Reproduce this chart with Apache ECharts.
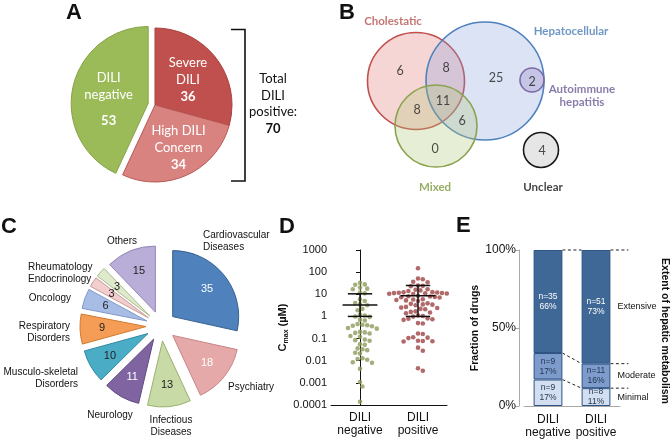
<!DOCTYPE html>
<html><head><meta charset="utf-8">
<script src="https://cdn.jsdelivr.net/npm/echarts@6/dist/echarts.min.js"></script>
<style>html,body{margin:0;padding:0;background:#fff}#c{width:671px;height:439px}</style>
</head><body><div id="c"></div>
<script>
// ---------- Panel A data ----------
const aCategories = ['Severe DILI', 'High DILI Concern', 'DILI negative'];
const aValues = [36, 34, 53];
const aTotalPositive = 70;

// ---------- Panel B data (Venn; set circles in panel units) ----------
const vennSets = ['Cholestatic', 'Hepatocellular', 'Mixed', 'Autoimmune\nhepatitis', 'Unclear'];
const vennCx = [116, 185, 136, 232, 241];
const vennCy = [81, 81, 126, 80, 150];
const vennR = [48.5, 59, 41, 12, 17.5];
const vennLabelX = [93, 271, 135, 282, 243];
const vennLabelY = [21, 31, 187, 96, 187];
const vennCounts = [6, 8, 25, 2, 11, 8, 6, 0, 4];
const vennCountX = [100, 146, 196, 232, 143, 117, 162, 135, 242];
const vennCountY = [71, 68, 78, 82, 101, 110, 121, 149, 151];

// ---------- Panel C data ----------
const cCategories = ['Cardiovascular\nDiseases', 'Psychiatry', 'Infectious\nDiseases', 'Neurology',
  'Musculo-skeletal\nDisorders', 'Respiratory\nDisorders', 'Oncology', 'Endocrinology', 'Rheumatology', 'Others'];
const cValues = [35, 18, 13, 11, 10, 9, 6, 3, 3, 15];

// ---------- Panel D data (Cmax, µM) ----------
const dCategories = ['DILI\nnegative', 'DILI\npositive'];
const dTickLabels = ['0.0001', '0.001', '0.01', '0.1', '1', '10', '100', '1000'];
const dNegative = [33, 28, 27, 20, 18, 17, 12, 11, 6, 5, 4, 3.5, 3.2, 2.2, 1.9, 1.2, 1.1, 1.0, 0.95,
  0.7, 0.65, 0.45, 0.42, 0.4, 0.38, 0.36, 0.3, 0.28, 0.2, 0.19, 0.18, 0.17, 0.13, 0.12, 0.09, 0.085, 0.08,
  0.056, 0.052, 0.036, 0.033, 0.03, 0.023, 0.021, 0.013, 0.012, 0.011, 0.0085, 0.008, 0.0043, 0.0011, 0.00068, 0.00014];
const dPositive = [150, 52, 48, 37, 35, 25, 24, 23, 17, 16, 15, 14,
  12.5, 12.2, 12, 11.8, 11.5, 11.3, 11, 10.8, 10.5, 10.2,
  8.5, 8.2, 8, 7.8, 7.6, 7.4, 7.2, 6, 5.8, 5.5, 5.3, 5, 3.9, 3.7, 3.5, 3.4, 3.2,
  2.7, 2.5, 2.4, 2.2, 2.1, 1.7, 1.6, 1.5, 1.4, 1.1, 1.05, 0.98, 0.82, 0.78, 0.74, 0.7,
  0.5, 0.48, 0.17, 0.16, 0.115, 0.11, 0.105, 0.08, 0.078, 0.076, 0.074, 0.039, 0.028, 0.0046, 0.0035];
const dCenter = [3.3, 8.5];
const dLow = [1.0, 1.0];
const dHigh = [10.5, 25];

// ---------- Panel E data ----------
const eCategories = ['DILI\nnegative', 'DILI\npositive'];
const eLevels = ['Minimal', 'Moderate', 'Extensive'];
const eMinimal = [9, 8];
const eModerate = [9, 11];
const eExtensive = [35, 51];
const eYTicks = ['0%', '50%', '100%'];

// ---------- styles ----------
const FA = 'Lato, "Open Sans", sans-serif';
const FS = '"Liberation Sans", Arial, sans-serif';
const aColors = ['#c0504d', '#d98381', '#9bbb59'];
const aBorders = ['#a9403d', '#b85856', '#86a347'];
const aLabelShift = [{dx: 0, dy: 0}, {dx: 6, dy: 5}, {dx: 1, dy: 9}];
const vennFill = ['rgba(222,120,115,0.30)', 'rgba(130,155,220,0.28)', 'rgba(175,200,120,0.30)', 'rgba(170,160,210,0.45)', '#e6e6e6'];
const vennStroke = ['#c0504d', '#4f81bd', '#8aa34f', '#7a6aa6', '#1a1a1a'];
const vennLabelColor = ['#b5524f', '#4a7db5', '#7d9a3e', '#6b5b95', '#111'];
const cColors = ['#4f81bd', '#e6a9a9', '#c8dba6', '#8064a2', '#4bacc6', '#f59d56', '#a7bde6', '#f2cece', '#dfeacd', '#b9aed8'];
const cBorders = ['#36628f', '#c98585', '#98b26f', '#5f4a7e', '#2f8aa3', '#cf7a30', '#7f98c6', '#c99a9a', '#a9bd8a', '#9487b9'];
const cNumColors = ['#fff', '#fff', '#222', '#fff', '#222', '#222', '#222', '#222', '#222', '#222'];
const cNameLabelPos = [
  {x: 203, y: 241, align: 'left'}, {x: 228, y: 387, align: 'left'}, {x: 171, y: 426, align: 'center'},
  {x: 110, y: 415, align: 'center'}, {x: 78, y: 378, align: 'right'}, {x: 70, y: 332, align: 'right'},
  {x: 71, y: 298, align: 'right'}, {x: 28, y: 279, align: 'left'}, {x: 28, y: 267, align: 'left'},
  {x: 122, y: 241, align: 'center'}];
const eColors = ['#d3dff0', '#7e9ccb', '#3f6896'];
const eLabelColors = ['#1f3350', '#1f3350', '#fff'];

// ---------- beeswarm offsets (deterministic) ----------
function swarm(values, cat) {
  const pxX = 58, pxDecade = 22.1, d = 4.8;
  const pts = values.map(v => ({v: v, y: -Math.log10(v) * pxDecade, x: 0}));
  const order = pts.slice().sort((a, b) => b.v - a.v);
  const placed = [];
  order.forEach(p => {
    for (let k = 0; k < 60; k++) {
      const off = (k % 2 ? 1 : -1) * Math.ceil(k / 2) * d / 2;
      if (placed.every(q => (q.x - off) * (q.x - off) + (q.y - p.y) * (q.y - p.y) >= d * d)) {
        p.x = off; placed.push(p); break;
      }
    }
  });
  return pts.map(p => [cat + p.x / pxX, p.v]);
}

// ---------- Panel E derived ----------
const eTotals = eMinimal.map((v, i) => v + eModerate[i] + eExtensive[i]);
const pct = arr => arr.map((v, i) => 100 * v / eTotals[i]);
const eMinP = pct(eMinimal), eModP = pct(eModerate), eExtP = pct(eExtensive);
const eCounts = [eMinimal, eModerate, eExtensive];
const eBoundaries = [
  [eMinP[0], eMinP[1], eMinP[1] / 2, 0],
  [eMinP[0] + eModP[0], eMinP[1] + eModP[1], eMinP[1] + eModP[1] / 2, 1],
  [100, 100, eMinP[1] + eModP[1] + eExtP[1] / 2, 2]
];

const chart = echarts.init(document.getElementById('c'), null, {renderer: 'canvas'});

const option = {
  animation: false,
  backgroundColor: '#fff',
  grid: [
    {left: 300, top: 0, width: 371, height: 200},
    {left: 331, top: 250, width: 116, height: 155},
    {left: 524, top: 250, width: 96, height: 156}
  ],
  xAxis: [
    {gridIndex: 0, type: 'value', min: 0, max: 371, show: false},
    {gridIndex: 1, type: 'category', data: dCategories, boundaryGap: true,
      axisLine: {lineStyle: {color: '#111', width: 1}},
      axisTick: {alignWithLabel: true, length: 4, lineStyle: {color: '#111'}},
      axisLabel: {interval: 0, fontFamily: FS, fontSize: 12, color: '#111', lineHeight: 13, margin: 6}},
    {gridIndex: 1, type: 'value', min: -0.5, max: 1.5, show: false},
    {gridIndex: 2, type: 'category', data: eCategories, boundaryGap: true,
      axisLine: {lineStyle: {color: '#aaa'}}, axisTick: {show: false},
      axisLabel: {interval: 0, fontFamily: FS, fontSize: 12, color: '#111', lineHeight: 13, margin: 7}}
  ],
  yAxis: [
    {gridIndex: 0, type: 'value', min: 0, max: 200, inverse: true, show: false},
    {gridIndex: 1, type: 'log', logBase: 10, min: 0.0001, max: 1000, splitNumber: 7,
      axisLine: {show: true, lineStyle: {color: '#111'}},
      axisTick: {show: true, length: 4, lineStyle: {color: '#111'}},
      splitLine: {show: false}, minorTick: {show: false},
      axisLabel: {fontFamily: FS, fontSize: 11, color: '#111', margin: 4,
        formatter: v => dTickLabels[Math.round(Math.log10(v)) + 4]},
      name: '{c|C}{s|max}{c| (µM)}', nameLocation: 'middle', nameRotate: 90, nameGap: 40,
      nameTextStyle: {rich: {
        c: {fontFamily: FS, fontSize: 11, fontWeight: 'bold', color: '#111'},
        s: {fontFamily: FS, fontSize: 7, fontWeight: 'bold', color: '#111', padding: [6, 0, 0, 0]}}}},
    {gridIndex: 2, type: 'value', min: 0, max: 100, interval: 50, offset: 5,
      axisLine: {show: true, lineStyle: {color: '#aaa'}},
      axisTick: {show: true, length: 4, lineStyle: {color: '#aaa'}},
      splitLine: {show: false},
      axisLabel: {fontFamily: FS, fontSize: 12, color: '#111', margin: 3,
        formatter: v => eYTicks[Math.round(v / 50)]},
      name: 'Fraction of drugs', nameLocation: 'middle', nameRotate: 90, nameGap: 38,
      nameTextStyle: {fontFamily: FS, fontSize: 10.5, fontWeight: 'bold', color: '#111'}}
  ],
  series: [
    // ----- Panel A -----
    {type: 'pie', center: [155, 105], radius: 77, startAngle: 90, selectedMode: 'single', selectedOffset: 7,
      data: aValues.map((v, i) => ({value: v, name: aCategories[i], selected: i === 2,
        itemStyle: {color: aColors[i], borderColor: aBorders[i], borderWidth: 1}})),
      label: {position: 'inside', color: '#fff', fontFamily: FA, fontSize: 13, lineHeight: 17,
        formatter: p => {
          if (p.dataIndex === 0) return '{n|Severe}\n{n|DILI}\n{b|' + p.value + '}';
          if (p.dataIndex === 1) return '{n|High DILI}\n{n|Concern}\n{b|' + p.value + '}';
          return '{n|DILI}\n{n|negative}\n{g|' + p.value + '}';
        },
        rich: {n: {fontFamily: FA, fontSize: 13, color: '#fff', lineHeight: 17},
          b: {fontFamily: FA, fontSize: 13, fontWeight: 'bold', color: '#fff', lineHeight: 17},
          g: {fontFamily: FA, fontSize: 13, fontWeight: 'bold', color: '#fff', lineHeight: 34}}},
      labelLayout: p => ({dx: aLabelShift[p.dataIndex].dx, dy: aLabelShift[p.dataIndex].dy}),
      labelLine: {show: false}, emphasis: {disabled: true}},
    // ----- Panel C (slices) -----
    {type: 'pie', center: [161, 326], radius: 66, startAngle: 90, selectedMode: 'multiple', selectedOffset: 15,
      data: cValues.map((v, i) => ({value: v, name: cCategories[i], selected: true,
        itemStyle: {color: cColors[i], borderColor: cBorders[i], borderWidth: 1}})),
      label: {show: false}, labelLine: {show: false}, emphasis: {disabled: true}},
    // ----- Panel C (numbers) -----
    {type: 'pie', center: [161, 326], radius: 82, startAngle: 90, selectedMode: 'multiple', selectedOffset: 15,
      avoidLabelOverlap: false,
      data: cValues.map((v, i) => ({value: v, name: cCategories[i], selected: true,
        itemStyle: {color: 'rgba(0,0,0,0)', borderWidth: 0},
        label: {color: cNumColors[i]}})),
      label: {position: 'inside', fontFamily: FS, fontSize: 11, formatter: '{c}', overflow: 'none'},
      labelLayout: {hideOverlap: false},
      labelLine: {show: false}, emphasis: {disabled: true}, silent: true},
    // ----- Panel C (names) -----
    {type: 'pie', center: [161, 326], radius: 66, startAngle: 90, avoidLabelOverlap: false,
      data: cValues.map((v, i) => ({value: v, name: cCategories[i],
        itemStyle: {color: 'rgba(0,0,0,0)', borderWidth: 0}})),
      label: {position: 'outside', fontFamily: FS, fontSize: 10, color: '#111', lineHeight: 12,
        formatter: '{b}', overflow: 'none', width: 120},
      labelLine: {show: false}, emphasis: {disabled: true}, silent: true,
      labelLayout: p => ({x: cNameLabelPos[p.dataIndex].x, y: cNameLabelPos[p.dataIndex].y,
        align: cNameLabelPos[p.dataIndex].align, verticalAlign: 'middle', hideOverlap: false})},
    // ----- Panel B circles -----
    {type: 'custom', xAxisIndex: 0, yAxisIndex: 0, silent: true,
      data: vennCx.map((x, i) => [x, vennCy[i], vennR[i]]),
      renderItem: (params, api) => {
        const c = api.coord([api.value(0), api.value(1)]);
        const r = api.size([api.value(2), 0])[0];
        const i = params.dataIndex;
        return {type: 'circle', shape: {cx: c[0], cy: c[1], r: r},
          style: {fill: vennFill[i], stroke: vennStroke[i], lineWidth: 1.6}};
      }},
    // ----- Panel B set labels -----
    {type: 'scatter', xAxisIndex: 0, yAxisIndex: 0, symbolSize: 0, silent: true,
      data: vennSets.map((s, i) => ({value: [vennLabelX[i], vennLabelY[i]], name: s,
        label: {color: vennLabelColor[i]}})),
      label: {show: true, position: 'inside', formatter: '{b}', fontFamily: FA, fontSize: 11.5,
        fontWeight: 'bold', lineHeight: 13, align: 'center'}},
    // ----- Panel B counts -----
    {type: 'scatter', xAxisIndex: 0, yAxisIndex: 0, symbolSize: 0, silent: true,
      data: vennCounts.map((c, i) => [vennCountX[i], vennCountY[i], c]),
      label: {show: true, position: 'inside', formatter: p => String(p.value[2]),
        fontFamily: FA, fontSize: 12.5, color: '#222'}},
    // ----- Panel D scatter -----
    {type: 'scatter', xAxisIndex: 2, yAxisIndex: 1, symbolSize: 4.6, silent: true,
      itemStyle: {color: '#8d9b5c'}, data: swarm(dNegative, 0)},
    {type: 'scatter', xAxisIndex: 2, yAxisIndex: 1, symbolSize: 4.6, silent: true,
      itemStyle: {color: '#9e4444'}, data: swarm(dPositive, 1)},
    // ----- Panel D error bars -----
    {type: 'custom', xAxisIndex: 2, yAxisIndex: 1, silent: true, z: 5,
      data: dCenter.map((c, i) => [i, c, dLow[i], dHigh[i]]),
      renderItem: (params, api) => {
        const x = api.value(0);
        const m1 = api.coord([x - 0.3, api.value(1)]), m2 = api.coord([x + 0.3, api.value(1)]);
        const lo1 = api.coord([x - 0.21, api.value(2)]), lo2 = api.coord([x + 0.21, api.value(2)]);
        const hi1 = api.coord([x - 0.21, api.value(3)]), hi2 = api.coord([x + 0.21, api.value(3)]);
        const cx = api.coord([x, 1])[0];
        const st = {stroke: '#111', lineWidth: 1.5};
        return {type: 'group', children: [
          {type: 'line', shape: {x1: cx, y1: lo1[1], x2: cx, y2: hi1[1]}, style: st},
          {type: 'line', shape: {x1: m1[0], y1: m1[1], x2: m2[0], y2: m2[1]}, style: st},
          {type: 'line', shape: {x1: lo1[0], y1: lo1[1], x2: lo2[0], y2: lo2[1]}, style: st},
          {type: 'line', shape: {x1: hi1[0], y1: hi1[1], x2: hi2[0], y2: hi2[1]}, style: st}
        ]};
      }},
    // ----- Panel E stacked bars -----
    ...[eMinP, eModP, eExtP].map((arr, li) => ({
      type: 'bar', xAxisIndex: 3, yAxisIndex: 2, stack: 'e', barWidth: '60%', name: eLevels[li], silent: true,
      data: arr,
      itemStyle: {color: eColors[li], borderColor: '#2d5383', borderWidth: 1},
      label: {show: true, position: 'inside', fontFamily: FS, fontSize: 8.5, lineHeight: 10, color: eLabelColors[li],
        formatter: p => 'n=' + eCounts[li][p.dataIndex] + '\n' + Math.round(p.value) + '%'}
    })),
    // ----- Panel E connectors and level labels -----
    {type: 'custom', xAxisIndex: 3, yAxisIndex: 2, silent: true, z: 5,
      data: eBoundaries,
      renderItem: (params, api) => {
        const n = api.coord([0, api.value(0)]), p = api.coord([1, api.value(1)]);
        const mid = api.coord([1, api.value(2)]);
        const hw = api.size([1, 0])[0] * 0.3;
        const st = {stroke: '#222', lineWidth: 1, lineDash: [3, 2.5]};
        return {type: 'group', children: [
          {type: 'line', shape: {x1: n[0] + hw, y1: n[1], x2: p[0] - hw, y2: p[1]}, style: st},
          {type: 'line', shape: {x1: p[0] + hw, y1: p[1], x2: p[0] + hw + 18, y2: p[1]}, style: st},
          {type: 'text', style: {text: eLevels[api.value(3)], x: p[0] + hw + 7, y: mid[1],
            fontFamily: FS, fontSize: 9, fill: '#111', verticalAlign: 'middle', align: 'left'}}
        ]};
      }}
  ],
  graphic: [
    {type: 'text', left: 66, top: 2, style: {text: 'A', font: '900 22px "Liberation Sans", Arial', fill: '#111'}},
    {type: 'text', left: 339, top: 2, style: {text: 'B', font: '900 22px "Liberation Sans", Arial', fill: '#111'}},
    {type: 'text', left: 1, top: 216, style: {text: 'C', font: '900 22px "Liberation Sans", Arial', fill: '#111'}},
    {type: 'text', left: 279, top: 216, style: {text: 'D', font: '900 22px "Liberation Sans", Arial', fill: '#111'}},
    {type: 'text', left: 456, top: 215, style: {text: 'E', font: '900 22px "Liberation Sans", Arial', fill: '#111'}},
    {type: 'polyline', shape: {points: [[231, 29.5], [245, 29.5], [245, 181], [231, 181]]},
      style: {stroke: '#111', lineWidth: 1.6, fill: null}},
    {type: 'text', x: 273, y: 104, style: {
      text: '{n|Total}\n{n|DILI}\n{n|positive:}\n{b|' + aTotalPositive + '}',
      align: 'center', verticalAlign: 'middle',
      rich: {n: {fontFamily: FA, fontSize: 13, lineHeight: 16.5, fill: '#111', align: 'center'},
        b: {fontFamily: FA, fontSize: 13, fontWeight: 'bold', lineHeight: 16.5, fill: '#111', align: 'center'}}}},
    {type: 'text', x: 665, y: 331, rotation: -Math.PI / 2, style: {
      text: 'Extent of hepatic metabolism', align: 'center', verticalAlign: 'middle',
      font: 'bold 10.5px "Liberation Sans", Arial', fill: '#111'}}
  ]
};
chart.setOption(option);
</script></body></html>
